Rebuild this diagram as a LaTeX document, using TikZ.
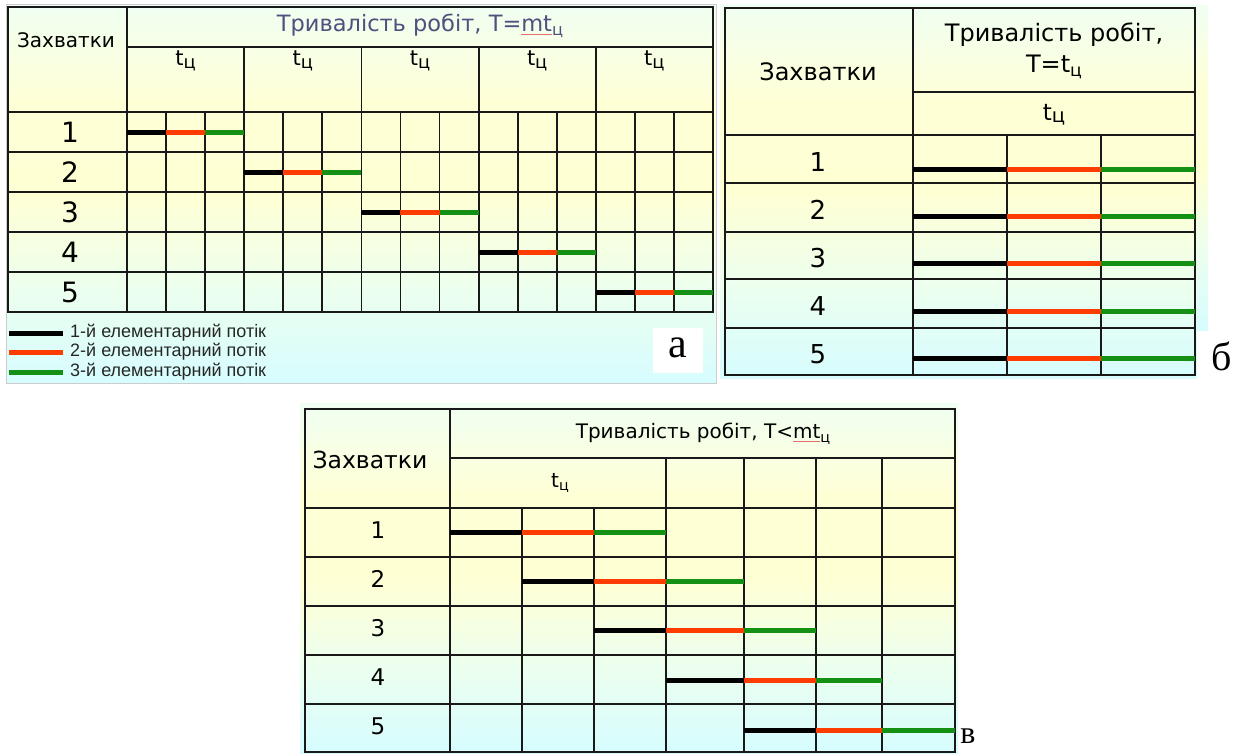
\documentclass[tikz,border=0pt]{standalone}
\usepackage{fontspec}
\usepackage{graphicx}
\setmainfont{DejaVu Sans}
\newfontfamily\legfont{Liberation Sans}
\newfontfamily\labfont{Liberation Serif}
\definecolor{gridc}{RGB}{25,25,25}
\definecolor{titlec}{RGB}{78,80,125}
\definecolor{redbar}{RGB}{255,60,0}
\definecolor{greenbar}{RGB}{20,145,20}
\definecolor{ulred}{RGB}{230,110,110}
\pgfdeclareverticalshading{panelshade}{100bp}{
  rgb(0bp)=(0.84,0.99,1);
  rgb(25bp)=(0.84,0.99,1);
  rgb(38bp)=(0.93,1,0.93);
  rgb(50bp)=(1,1,0.83);
  rgb(62bp)=(1,1,0.84);
  rgb(75bp)=(0.94,1,0.95);
  rgb(100bp)=(0.94,1,0.95)}
\newcommand\cyrsub[1]{\raisebox{-0.35ex}{\scalebox{0.72}{#1}}}
\newcommand\cyrsubb[1]{\raisebox{-0.2ex}{\scalebox{0.85}{#1}}}
\newcommand\redul[1]{\setbox0\hbox{#1}\rlap{\raisebox{-3pt}{\textcolor{ulred}{\rule{\wd0}{0.8pt}}}}#1}
\tikzset{
  gridline/.style={draw=gridc, line width=1.8pt},
  bblack/.style={draw=black, line width=5pt},
  bred/.style={draw=redbar, line width=5pt},
  bgreen/.style={draw=greenbar, line width=5pt},
  txt/.style={inner sep=0pt, anchor=center},
  panelbg/.style={shading=panelshade},
}
\begin{document}
\begin{tikzpicture}[x=1pt,y=-1pt]
\useasboundingbox (0,0) rectangle (1237,753);
\fill[white] (0,0) rectangle (1237,753);
% ---------- panel a ----------
\shade[panelbg] (6,4) rectangle (716,383);
\draw[gray!40, line width=0.8pt] (6,4) rectangle (716,383);
\draw[gridline] (8,7) rectangle (713,312);
\draw[gridline] (127,7) -- (127,312);
\draw[gridline] (127,47) -- (713,47);
\foreach \y in {112,152,192,232,272} \draw[gridline] (8,\y) -- (713,\y);
\foreach \k in {1,...,4} \draw[gridline] ({127+117.2*\k},47) -- ({127+117.2*\k},112);
\foreach \j in {1,...,14} \draw[gridline] ({127+117.2/3*\j},112) -- ({127+117.2/3*\j},312);
\node[txt, font=\fontsize{20}{22}\selectfont] (aZ) at (66,40) {Захватки};
\node[txt, font=\fontsize{22.5}{25}\selectfont, text=titlec] (aT) at (420,26) {Тривалість робіт, T=\redul{mt}\cyrsub{ц}};
\foreach \k in {0,...,4}
  \node[txt, font=\fontsize{21}{24}\selectfont] (aS\k) at ({127+117.2*\k+58.6},61) {t\cyrsubb{ц}};
\foreach \i in {1,...,5}
  \node[txt, font=\fontsize{28}{30}\selectfont] (aN\i) at (70,{92+40*\i}) {\i};
\foreach \i in {1,...,5} {
  \pgfmathsetmacro\xo{127+117.2*(\i-1)}
  \pgfmathsetmacro\yo{92+40*\i}
  \coordinate (a\i p0) at (\xo,\yo);
  \coordinate (a\i p1) at ({\xo+117.2/3},\yo);
  \coordinate (a\i p2) at ({\xo+2*117.2/3},\yo);
  \coordinate (a\i p3) at ({\xo+117.2},\yo);
  \draw[bblack] (a\i p0) -- (a\i p1);
  \draw[bred] (a\i p1) -- (a\i p2);
  \draw[bgreen] (a\i p2) -- (a\i p3);
}
% legend
\foreach \c/\y/\n in {bblack/333/1, bred/352/2, bgreen/372/3} {
  \coordinate (l\n a) at (9,\y);
  \coordinate (l\n b) at (63,\y);
  \draw[\c] (l\n a) -- (l\n b);
  \node[inner sep=0pt, anchor=west, font=\legfont\fontsize{18}{20}\selectfont, text=black!85] (l\n t) at (70,\y) {\n-й елементарний потік};
}
\fill[white] (653,328) rectangle (703,373);
\node[txt, font=\labfont\fontsize{42}{44}\selectfont] (la) at (678,348) {а};
% ---------- panel б ----------
\shade[panelbg] (1195,5) rectangle (1208,330);
\shade[panelbg] (720,4) rectangle (1197,378);
\draw[gridline] (725,8) rectangle (1195,375);
\draw[gridline] (913,8) -- (913,375);
\draw[gridline] (913,92) -- (1195,92);
\foreach \y in {135,183,232,279,328} \draw[gridline] (725,\y) -- (1195,\y);
\foreach \x in {1007,1101} \draw[gridline] (\x,135) -- (\x,375);
\node[txt, font=\fontsize{24}{28}\selectfont] (bZ) at (818,72) {Захватки};
\node[txt, font=\fontsize{24}{28}\selectfont] (bT1) at (1054,35) {Тривалість робіт,};
\node[txt, font=\fontsize{24}{28}\selectfont] (bT2) at (1054,67) {T=t\cyrsub{ц}};
\node[txt, font=\fontsize{23}{26}\selectfont] (bS) at (1054,115) {t\cyrsubb{ц}};
\foreach \i/\yc/\yb in {1/162/169, 2/210/216, 3/258/263, 4/306/311, 5/354/358} {
  \node[txt, font=\fontsize{26}{30}\selectfont] (bN\i) at (818,\yc) {\i};
  \coordinate (b\i p0) at (913,\yb);
  \coordinate (b\i p1) at (1007,\yb);
  \coordinate (b\i p2) at (1101,\yb);
  \coordinate (b\i p3) at (1195,\yb);
  \draw[bblack] (b\i p0) -- (b\i p1);
  \draw[bred] (b\i p1) -- (b\i p2);
  \draw[bgreen] (b\i p2) -- (b\i p3);
}
\node[txt, font=\labfont\fontsize{40}{42}\selectfont] (lb) at (1222,356) {б};
% ---------- panel в ----------
\shade[panelbg] (300,403) rectangle (958,753);
\draw[gridline] (305,409) rectangle (955,752);
\draw[gridline] (450,409) -- (450,752);
\draw[gridline] (450,458) -- (955,458);
\foreach \y in {508,557,606,655,704} \draw[gridline] (305,\y) -- (955,\y);
\foreach \x in {666,744,816,882} \draw[gridline] (\x,458) -- (\x,752);
\foreach \x in {522,594} \draw[gridline] (\x,508) -- (\x,752);
\node[txt, font=\fontsize{23.5}{26}\selectfont] (cZ) at (370,460) {Захватки};
\node[txt, font=\fontsize{20}{23}\selectfont] (cT) at (703,434) {Тривалість робіт, T<\redul{mt}\cyrsub{ц}};
\node[txt, font=\fontsize{20}{23}\selectfont] (cS) at (560,483) {t\cyrsub{ц}};
\foreach \i/\yc in {1/532, 2/581, 3/630, 4/679, 5/728}
  \node[txt, font=\fontsize{23}{26}\selectfont] (cN\i) at (378,{\yc-2}) {\i};
\foreach \i/\xa/\xb/\xc/\xd/\y in {1/450/522/594/666/532, 2/522/594/666/744/581, 3/594/666/744/816/630, 4/666/744/816/882/680, 5/744/816/882/955/730} {
  \coordinate (c\i p0) at (\xa,\y);
  \coordinate (c\i p1) at (\xb,\y);
  \coordinate (c\i p2) at (\xc,\y);
  \coordinate (c\i p3) at (\xd,\y);
  \draw[bblack] (c\i p0) -- (c\i p1);
  \draw[bred] (c\i p1) -- (c\i p2);
  \draw[bgreen] (c\i p2) -- (c\i p3);
}
\node[txt, font=\labfont\fontsize{32}{34}\selectfont] (lc) at (968,736) {в};
\end{tikzpicture}
\end{document}
